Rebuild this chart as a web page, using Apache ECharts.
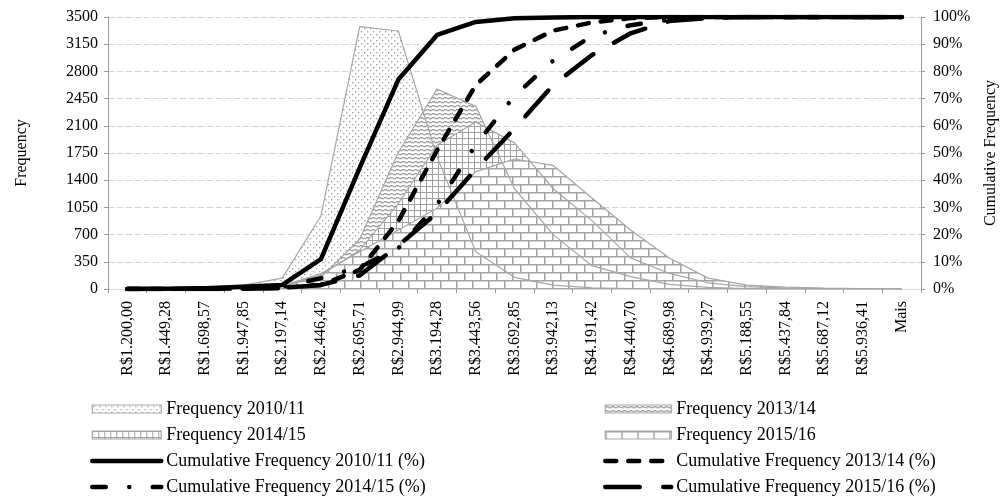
<!DOCTYPE html>
<html>
<head>
<meta charset="utf-8">
<script src="https://cdn.jsdelivr.net/npm/echarts@6/dist/echarts.min.js"></script>
<style>
  html, body { margin: 0; padding: 0; background: #ffffff; }
  #chart { width: 1008px; height: 497px; }
</style>
</head>
<body>
<div id="chart"></div>
<script>
// Salary classes (upper limits) used as bins
const categories = [
  'R$1.200,00', 'R$1.449,28', 'R$1.698,57', 'R$1.947,85', 'R$2.197,14',
  'R$2.446,42', 'R$2.695,71', 'R$2.944,99', 'R$3.194,28', 'R$3.443,56',
  'R$3.692,85', 'R$3.942,13', 'R$4.191,42', 'R$4.440,70', 'R$4.689,98',
  'R$4.939,27', 'R$5.188,55', 'R$5.437,84', 'R$5.687,12', 'R$5.936,41', 'Mais'
];

// Frequency per bin
const freq2010 = [2, 10, 25, 50, 140, 940, 3376, 3320, 1700, 480, 150, 50, 15, 5, 2, 1, 0, 0, 0, 0, 0];
const freq2013 = [0, 2, 5, 15, 40, 150, 640, 1760, 2574, 2350, 1290, 700, 300, 160, 60, 20, 5, 2, 0, 0, 0];
const freq2014 = [0, 2, 5, 15, 40, 180, 500, 1100, 1850, 2150, 1880, 1290, 880, 400, 200, 80, 30, 10, 5, 0, 0];
const freq2015 = [0, 2, 5, 15, 40, 200, 480, 760, 1040, 1510, 1673, 1590, 1170, 760, 400, 140, 50, 25, 10, 5, 0];

// Cumulative frequency per bin (%)
const cum2010 = [0, 0.1, 0.3, 0.8, 1.5, 11, 44.5, 77, 93.4, 98.2, 99.5, 99.8, 100, 100, 100, 100, 100, 100, 100, 100, 100];
const cum2013 = [0, 0, 0.1, 0.2, 0.5, 1.5, 7, 25, 51, 75, 88, 95, 98, 99.6, 100, 100, 100, 100, 100, 100, 100];
const cum2014 = [0, 0, 0.1, 0.3, 0.8, 4, 8, 15, 31, 53, 71, 84, 93, 97, 99, 99.7, 100, 100, 100, 100, 100];
const cum2015 = [0, 0, 0, 0.1, 0.3, 1.5, 5, 16, 28, 44, 59, 75, 86, 94, 98.5, 99.6, 100, 100, 100, 100, 100];

// Axis ticks
const freqMax = 3500, freqStep = 350;
const pctMax = 100, pctStep = 10;

const names = {
  f2010: 'Frequency 2010/11', f2013: 'Frequency 2013/14',
  f2014: 'Frequency 2014/15', f2015: 'Frequency 2015/16',
  c2010: 'Cumulative Frequency 2010/11 (%)', c2013: 'Cumulative Frequency 2013/14 (%)',
  c2014: 'Cumulative Frequency 2014/15 (%)', c2015: 'Cumulative Frequency 2015/16 (%)'
};

// Fill textures for the frequency areas
function tile(w, h, paint) {
  const c = document.createElement('canvas');
  c.width = w; c.height = h;
  const g = c.getContext('2d');
  g.fillStyle = '#ffffff';
  g.fillRect(0, 0, w, h);
  paint(g);
  return { image: c, repeat: 'repeat' };
}
const dotFill = tile(6, 6, g => {
  g.fillStyle = '#a0a0a0';
  g.fillRect(1, 1, 1.3, 1.3);
  g.fillRect(4, 4, 1.3, 1.3);
});
// wavy horizontal stripes
const stripeFill = tile(6, 4, g => {
  g.fillStyle = '#a0a0a0';
  g.fillRect(0, 1, 3, 1.5);
  g.fillRect(3, 1.8, 3, 1.5);
});
const gridFill = tile(6, 6, g => {
  g.fillStyle = '#a0a0a0';
  g.fillRect(0, 0, 6, 1);
  g.fillRect(0, 0, 1, 6);
});
const brickFill = tile(16, 16, g => {
  g.fillStyle = '#a4a4a4';
  g.fillRect(0, 0, 16, 1.5);
  g.fillRect(0, 8, 16, 1.5);
  g.fillRect(0, 0, 1.5, 8);
  g.fillRect(8, 8, 1.5, 8);
});

const edge = '#a6a6a6';
const font = 'Liberation Serif';
const lineW = 4.5;
const dashes = {
  c2010: 'solid',
  c2013: [11, 12],
  c2014: [13.5, 23.5, 0.01, 23.5],
  c2015: [34.5, 23.5]
};

function areaSeries(name, data, fill) {
  return {
    name, type: 'line', data, yAxisIndex: 0,
    symbol: 'none', smooth: false,
    itemStyle: { color: edge },
    lineStyle: { color: edge, width: 1.2 },
    areaStyle: { color: fill, opacity: 1 },
    emphasis: { disabled: true }
  };
}
function cumSeries(name, data, dash) {
  return {
    name, type: 'line', data, yAxisIndex: 1,
    symbol: 'none', smooth: false,
    itemStyle: { color: '#000' },
    lineStyle: { color: '#000', width: lineW, type: dash, cap: 'round', join: 'round' },
    emphasis: { disabled: true }
  };
}
function areaKey(name, fill) {
  return { name, icon: 'rect', itemStyle: { color: fill, borderColor: edge, borderWidth: 1.2 } };
}
function lineKey(name, dash) {
  return {
    name,
    itemStyle: { opacity: 0 },
    lineStyle: { color: '#000', width: lineW, type: dash, cap: 'round' }
  };
}

const legendText = { fontFamily: font, fontSize: 18, color: '#000', lineHeight: 17 };

const option = {
  animation: false,
  backgroundColor: '#ffffff',
  textStyle: { fontFamily: font },
  grid: { left: 108, right: 87, top: 17, bottom: 208, containLabel: false },
  legend: [
    {
      orient: 'vertical', left: 90, top: 400, padding: 0, height: 100,
      itemWidth: 69, itemHeight: 8, itemGap: 8,
      textStyle: legendText, selectedMode: false,
      data: [
        areaKey(names.f2010, dotFill),
        areaKey(names.f2014, gridFill),
        lineKey(names.c2010, dashes.c2010),
        lineKey(names.c2014, dashes.c2014)
      ]
    },
    {
      orient: 'vertical', left: 603, top: 400, padding: 0, height: 100,
      itemWidth: 66, itemHeight: 8, itemGap: 8,
      textStyle: legendText, selectedMode: false,
      data: [
        areaKey(names.f2013, stripeFill),
        areaKey(names.f2015, brickFill),
        lineKey(names.c2013, dashes.c2013),
        lineKey(names.c2015, dashes.c2015)
      ]
    }
  ],
  xAxis: [
    {
      type: 'category', data: categories, boundaryGap: true, position: 'bottom',
      axisLine: { lineStyle: { color: '#9a9a9a', width: 1 } },
      axisTick: { show: true, length: 4, lineStyle: { color: '#9a9a9a' } },
      axisLabel: {
        interval: 0, rotate: 90, margin: 12,
        fontFamily: font, fontSize: 16, color: '#000'
      },
      splitLine: { show: false }
    },
    {
      type: 'category', data: categories, boundaryGap: true, position: 'top',
      axisLine: { show: true, lineStyle: { color: '#d9d9d9', width: 1 } },
      axisTick: { show: false }, axisLabel: { show: false }, splitLine: { show: false }
    }
  ],
  yAxis: [
    {
      type: 'value', min: 0, max: freqMax, interval: freqStep,
      name: 'Frequency', nameLocation: 'middle', nameGap: 78, nameRotate: 90,
      nameTextStyle: { fontFamily: font, fontSize: 16, color: '#000' },
      axisLine: { show: true, lineStyle: { color: '#9a9a9a', width: 1 } },
      axisTick: { show: true, length: 4, lineStyle: { color: '#9a9a9a' } },
      axisLabel: { margin: 10, fontFamily: font, fontSize: 16, color: '#000', formatter: v => String(v) },
      splitLine: { show: true, lineStyle: { color: '#d4d4d4', width: 1, type: [6, 3] } }
    },
    {
      type: 'value', min: 0, max: pctMax, interval: pctStep, position: 'right',
      name: 'Cumulative Frequency', nameLocation: 'middle', nameGap: 62, nameRotate: 90,
      nameTextStyle: { fontFamily: font, fontSize: 16, color: '#000' },
      axisLine: { show: true, lineStyle: { color: '#9a9a9a', width: 1 } },
      axisTick: { show: true, length: 4, lineStyle: { color: '#9a9a9a' } },
      axisLabel: { margin: 12, fontFamily: font, fontSize: 16, color: '#000', formatter: '{value}%' },
      splitLine: { show: false }
    }
  ],
  series: [
    areaSeries(names.f2010, freq2010, dotFill),
    areaSeries(names.f2013, freq2013, stripeFill),
    areaSeries(names.f2014, freq2014, gridFill),
    areaSeries(names.f2015, freq2015, brickFill),
    cumSeries(names.c2010, cum2010, dashes.c2010),
    cumSeries(names.c2013, cum2013, dashes.c2013),
    cumSeries(names.c2014, cum2014, dashes.c2014),
    cumSeries(names.c2015, cum2015, dashes.c2015)
  ]
};

const chart = echarts.init(document.getElementById('chart'), null, { renderer: 'canvas' });
chart.setOption(option);
</script>
</body>
</html>
